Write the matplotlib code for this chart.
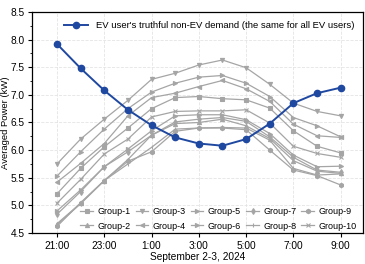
import matplotlib.pyplot as plt
import numpy as np

plt.rcParams["font.family"] = ["Liberation Sans", "DejaVu Sans"]

hours = ["21:00", "22:00", "23:00", "0:00", "1:00", "2:00", "3:00",
         "4:00", "5:00", "6:00", "7:00", "8:00", "9:00"]
truthful = [7.92, 7.48, 7.08, 6.73, 6.45, 6.23, 6.12, 6.08, 6.20, 6.48, 6.85, 7.03, 7.13]

group_names = [f"Group-{i}" for i in range(1, 11)]
group_vals = [
    [5.21, 5.67, 6.06, 6.40, 6.75, 6.95, 6.97, 6.93, 6.91, 6.76, 6.35, 6.07, 5.95],
    [4.67, 5.04, 5.45, 5.83, 6.27, 6.48, 6.50, 6.56, 6.44, 6.21, 5.81, 5.62, 5.58],
    [5.75, 6.20, 6.56, 6.90, 7.28, 7.39, 7.54, 7.63, 7.49, 7.19, 6.85, 6.70, 6.62],
    [5.42, 5.76, 6.12, 6.62, 6.95, 7.03, 7.15, 7.26, 7.11, 6.88, 6.47, 6.26, 6.23],
    [5.53, 5.97, 6.38, 6.75, 7.05, 7.21, 7.32, 7.35, 7.21, 6.97, 6.59, 6.44, 6.24],
    [4.90, 5.28, 5.70, 6.02, 6.35, 6.62, 6.64, 6.64, 6.55, 6.30, 5.91, 5.70, 5.71],
    [4.84, 5.25, 5.70, 5.97, 6.27, 6.51, 6.56, 6.59, 6.52, 6.24, 5.87, 5.64, 5.60],
    [4.65, 5.03, 5.45, 5.75, 6.05, 6.38, 6.40, 6.41, 6.40, 6.18, 5.67, 5.55, 5.57],
    [4.62, 5.05, 5.45, 5.80, 5.97, 6.34, 6.40, 6.40, 6.37, 6.00, 5.64, 5.54, 5.37],
    [5.04, 5.47, 5.93, 6.20, 6.60, 6.70, 6.71, 6.71, 6.73, 6.49, 6.07, 5.94, 5.87],
]
markers = ["s", "^", "v", "<", ">", ">", "d", "|", "h", "x"]

x = np.arange(len(hours))
gray = "#a5a5a5"
blue = "#1f48a0"

fig = plt.figure(figsize=(3.65, 2.64), dpi=100)
ax = fig.add_axes([0.088, 0.117, 0.907, 0.838])

group_handles = []
for name, vals, m in zip(group_names, group_vals, markers):
    ms = 3.2 if m in ("s", "h") else 3
    h, = ax.plot(x, vals, color=gray, lw=0.9, marker=m, ms=ms, mew=0.8, label=name)
    group_handles.append(h)

bh, = ax.plot(x, truthful, color=blue, lw=1.4, marker="o", ms=4.5, zorder=5,
              label="EV user's truthful non-EV demand (the same for all EV users)")

ax.set_xlim(-1.05, 12.95)
ax.set_ylim(4.5, 8.5)
ax.set_xticks(x[::2])
ax.set_xticklabels(hours[::2])
ax.set_yticks(np.arange(4.5, 8.51, 0.5))
ax.set_yticks(np.arange(4.75, 8.5, 0.5), minor=True)
ax.grid(True, color="#e4e4e4", lw=0.6, ls="--")
ax.set_axisbelow(True)
ax.tick_params(labelsize=7.3, length=3, width=0.8, pad=2.5)
ax.tick_params(which="minor", length=1.8, width=0.6)
for s in ax.spines.values():
    s.set_linewidth(0.9)

ax.set_ylabel("Averaged Power (kW)", fontsize=6.8)
ax.yaxis.set_label_coords(-0.068, 0.5)
ax.set_xlabel("September 2-3, 2024", fontsize=7.3, labelpad=1)

leg1 = ax.legend(handles=[bh], loc="upper left", bbox_to_anchor=(0.07, 0.995),
                 frameon=False, fontsize=6.8, handlelength=2.6)
ax.add_artist(leg1)
ax.legend(handles=group_handles, loc="lower right", ncol=5, frameon=False,
          fontsize=6.5, handlelength=1.4, columnspacing=0.55, handletextpad=0.5,
          labelspacing=0.6, bbox_to_anchor=(1.005, -0.025))

fig.savefig("out.png", dpi=100)
